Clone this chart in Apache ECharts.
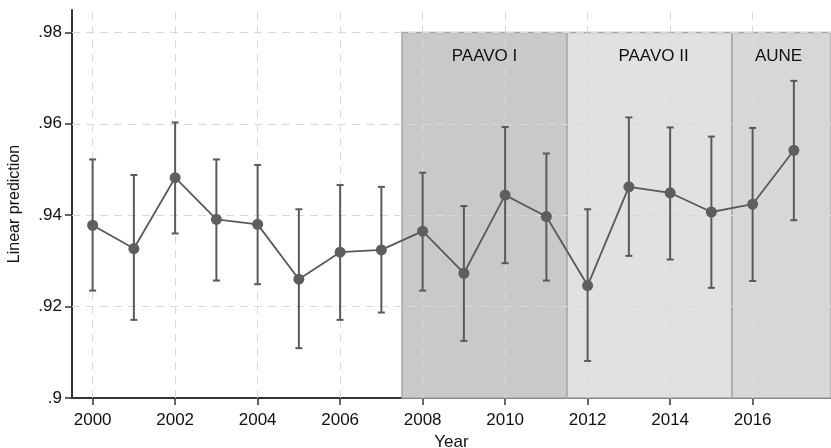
<!DOCTYPE html>
<html>
<head>
<meta charset="utf-8">
<script src="https://cdn.jsdelivr.net/npm/echarts@6/dist/echarts.min.js"></script>
<style>html,body{margin:0;padding:0;background:#fff;}#c{width:831px;height:448px;}</style>
</head>
<body>
<div id="c"></div>
<script>
const years = [2000,2001,2002,2003,2004,2005,2006,2007,2008,2009,2010,2011,2012,2013,2014,2015,2016,2017];
const meanVals = [0.9378,0.9327,0.9482,0.9391,0.9380,0.9260,0.9319,0.9324,0.9365,0.9273,0.9444,0.9397,0.9246,0.9462,0.9449,0.9407,0.9424,0.9542];
const upperVals = [0.9522,0.9488,0.9603,0.9522,0.9510,0.9413,0.9466,0.9462,0.9493,0.9420,0.9593,0.9535,0.9413,0.9614,0.9592,0.9572,0.9591,0.9694];
const lowerVals = [0.9235,0.9171,0.9360,0.9257,0.9249,0.9109,0.9171,0.9187,0.9235,0.9125,0.9295,0.9257,0.9081,0.9311,0.9303,0.9241,0.9256,0.9389];
const xTicks = [2000,2002,2004,2006,2008,2010,2012,2014,2016];
const yTicks = [0.9,0.92,0.94,0.96,0.98];
const yTickLabels = ['.9','.92','.94','.96','.98'];
const periodNames = ['PAAVO I','PAAVO II','AUNE'];
const periodStart = [2007.5,2011.5,2015.5];
const periodEnd = [2011.5,2015.5,2017.9];
const periodColors = ['#c9c9c9','#e1e1e1','#d7d7d7'];
const periodLabelShift = [0,4,-3];

const FONT = 'Liberation Sans, Arial, sans-serif';
const chart = echarts.init(document.getElementById('c'), null, {renderer:'canvas'});

const errData = years.map((y,i)=>[y, lowerVals[i], upperVals[i]]);
const lineData = years.map((y,i)=>[y, meanVals[i]]);

const areas = periodNames.map((n,i)=>[
  {name:n, xAxis:periodStart[i], yAxis:0.9, itemStyle:{color:periodColors[i], borderColor:'#a6a6a6', borderWidth:1.5},
   label:{show:false}},
  {xAxis:periodEnd[i], yAxis:0.98}
]);
const areaLabels = periodNames.map((n,i)=>[
  {name:n, xAxis:periodStart[i], yAxis:0.9, itemStyle:{color:'rgba(0,0,0,0)', borderWidth:0},
   label:{show:true, position:'insideTop', distance:15, offset:[periodLabelShift[i],0], color:'#111', fontSize:17, fontFamily:FONT}},
  {xAxis:periodEnd[i], yAxis:0.98}
]);

const gridLineStyle = {color:'#d9d9d9', type:[8,6], width:1};

chart.setOption({
  animation:false,
  backgroundColor:'#fff',
  grid:{left:72, right:0, top:10, bottom:50, containLabel:false, outerBoundsMode:'none'},
  xAxis:{
    type:'value', min:1999.5, max:2017.9,
    name:'Year', nameLocation:'middle', nameGap:36,
    nameTextStyle:{fontSize:17, color:'#111', fontFamily:FONT},
    axisLine:{show:true, onZero:false, lineStyle:{color:'#333', width:2}},
    axisTick:{show:true, length:7, lineStyle:{color:'#333', width:1.5}, customValues:xTicks},
    axisLabel:{fontSize:17, color:'#111', fontFamily:FONT, margin:14, customValues:xTicks, formatter:v=>String(v)},
    splitLine:{show:false}
  },
  yAxis:{
    type:'value', min:0.9, max:0.9849,
    name:'Linear prediction', nameLocation:'middle', nameGap:49, nameRotate:90,
    nameTextStyle:{fontSize:16, color:'#111', fontFamily:FONT},
    axisLine:{show:true, onZero:false, lineStyle:{color:'#333', width:2}},
    axisTick:{show:true, length:7, lineStyle:{color:'#333', width:1.5}, customValues:yTicks},
    axisLabel:{fontSize:17, color:'#111', fontFamily:FONT, margin:10, customValues:yTicks,
      formatter:v=>{ const i = yTicks.findIndex(t=>Math.abs(t-v)<1e-6); return i>=0 ? yTickLabels[i] : ''; }},
    splitLine:{show:false}
  },
  series:[
    {
      type:'line', data:[], silent:true, z:1,
      markArea:{silent:true, z:1, label:{show:false}, data:areas}
    },
    {
      type:'line', data:[], silent:true, z:2,
      markLine:{silent:true, z:2, symbol:['none','none'], label:{show:false}, lineStyle:gridLineStyle,
        data:xTicks.map(x=>({xAxis:x})).concat(yTicks.slice(1).map(y=>({yAxis:y})))}
    },
    {
      type:'line', data:[], silent:true, z:4,
      markArea:{silent:true, z:4, data:areaLabels}
    },
    {
      type:'custom', z:10, silent:true,
      data:errData,
      renderItem:(params, api)=>{
        const x = api.value(0);
        const lo = api.coord([x, api.value(1)]);
        const hi = api.coord([x, api.value(2)]);
        const w = 3.5;
        const st = {stroke:'#5a5a5a', lineWidth:2};
        return {type:'group', children:[
          {type:'line', shape:{x1:lo[0], y1:lo[1], x2:hi[0], y2:hi[1]}, style:st},
          {type:'line', shape:{x1:lo[0]-w, y1:lo[1], x2:lo[0]+w, y2:lo[1]}, style:st},
          {type:'line', shape:{x1:hi[0]-w, y1:hi[1], x2:hi[0]+w, y2:hi[1]}, style:st}
        ]};
      }
    },
    {
      type:'line', z:11, data:lineData, symbol:'circle', symbolSize:11,
      lineStyle:{color:'#5a5a5a', width:1.8},
      itemStyle:{color:'#5e5e5e'}
    }
  ]
});
</script>
</body>
</html>
